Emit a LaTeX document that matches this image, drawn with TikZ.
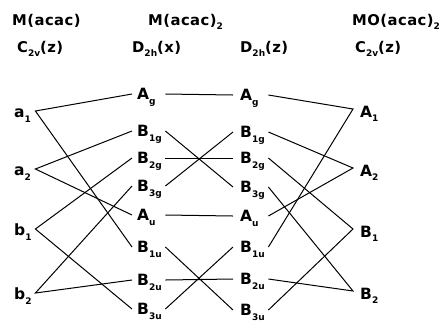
\documentclass[tikz,border=0pt]{standalone}
\usepackage{fontspec}
\newfontfamily\lf[LetterSpace=3]{DejaVu Sans Bold}
\newfontfamily\lfsub{DejaVu Sans Bold}
\newcommand\lsb[1]{\raisebox{-0.3em}{\fontsize{9}{9}\lfsub #1}}
\begin{document}
\begin{tikzpicture}[x=1pt,y=-1pt,
  lbl/.style={inner sep=0pt, anchor=west, align=left, font=\fontsize{15.5}{15.5}\lf},
  hd/.style={inner sep=0pt, anchor=base west, font=\fontsize{14.8}{14.8}\lf},
  c0/.style={lbl, text width=17pt, text height=13pt, text depth=0pt},
  c1/.style={lbl, text width=26pt, text height=11pt, text depth=0pt},
  c2/.style={lbl, text width=26pt, text height=11pt, text depth=0pt},
  c3/.style={lbl, text width=30pt, text height=16pt, text depth=0pt},
  ln/.style={line width=1pt}]
\useasboundingbox (0,0) rectangle (443,322);
% headers
\node[hd] (h1) at (12,25) {M(acac)};
\node[hd] (h2) at (148,25) {M(acac)\lsb{2}};
\node[hd] (h3) at (352,25) {MO(acac)\lsb{2}};
\node[hd] (g1) at (17,52) {C\lsb{2v}(z)};
\node[hd] (g2) at (132,52) {D\lsb{2h}(x)};
\node[hd] (g3) at (240,52) {D\lsb{2h}(z)};
\node[hd] (g4) at (355,52) {C\lsb{2v}(z)};
% column 0
\node[c0] (a1) at (14,111) {a\lsb{1}};
\node[c0] (a2) at (14,169) {a\lsb{2}};
\node[c0] (b1) at (14,229) {b\lsb{1}};
\node[c0] (b2) at (14,293) {b\lsb{2}};
% column 1
\node[c1] (xAg) at (137,94) {A\lsb{g}};
\node[c1] (xB1g) at (137,131) {B\lsb{1g}};
\node[c1] (xB2g) at (137,158) {B\lsb{2g}};
\node[c1] (xB3g) at (137,186) {B\lsb{3g}};
\node[c1] (xAu) at (137,215) {A\lsb{u}};
\node[c1] (xB1u) at (137,247) {B\lsb{1u}};
\node[c1] (xB2u) at (137,280) {B\lsb{2u}};
\node[c1] (xB3u) at (137,309) {B\lsb{3u}};
% column 2
\node[c2] (zAg) at (240,95) {A\lsb{g}};
\node[c2] (zB1g) at (240,132) {B\lsb{1g}};
\node[c2] (zB2g) at (240,158) {B\lsb{2g}};
\node[c2] (zB3g) at (240,187) {B\lsb{3g}};
\node[c2] (zAu) at (240,216) {A\lsb{u}};
\node[c2] (zB1u) at (240,247) {B\lsb{1u}};
\node[c2] (zB2u) at (240,279) {B\lsb{2u}};
\node[c2] (zB3u) at (240,310) {B\lsb{3u}};
% column 3
\node[c3] (A1) at (360,109) {A\lsb{1}};
\node[c3] (A2) at (360,168) {A\lsb{2}};
\node[c3] (B1) at (360,229) {B\lsb{1}};
\node[c3] (B2) at (360,291) {B\lsb{2}};
% connectors col0 -> col1
\tikzset{L0/.style={xshift=4pt}, L1/.style={xshift=-5pt}, R1/.style={xshift=2pt}, L2/.style={xshift=-7pt}, R2/.style={xshift=2pt}, L3/.style={xshift=-7pt}}
\draw[ln] ([L1]xAg.west) -- ([L0]a1.east) -- ([L1]xB1u.west);
\draw[ln] ([L1]xB1g.west) -- ([L0]a2.east) -- ([L1]xAu.west);
\draw[ln] ([L1]xB2g.west) -- ([L0]b1.east) -- ([L1]xB3u.west);
\draw[ln] ([L1]xB3g.west) -- ([L0]b2.east) -- ([L1]xB2u.west);
% col1 -> col2
\draw[ln] ([R1]xAg.east) -- ([L2]zAg.west);
\draw[ln] ([R1]xB1g.east) -- ([L2]zB3g.west);
\draw[ln] ([R1]xB2g.east) -- ([L2]zB2g.west);
\draw[ln] ([R1]xB3g.east) -- ([L2]zB1g.west);
\draw[ln] ([R1]xAu.east) -- ([L2]zAu.west);
\draw[ln] ([R1]xB1u.east) -- ([L2]zB3u.west);
\draw[ln] ([R1]xB2u.east) -- ([L2]zB2u.west);
\draw[ln] ([R1]xB3u.east) -- ([L2]zB1u.west);
% col2 -> col3
\draw[ln] ([R2]zAg.east) -- ([L3]A1.west) -- ([R2]zB1u.east);
\draw[ln] ([R2]zB1g.east) -- ([L3]A2.west) -- ([R2]zAu.east);
\draw[ln] ([R2]zB2g.east) -- ([L3]B1.west) -- ([R2]zB3u.east);
\draw[ln] ([R2]zB3g.east) -- ([L3]B2.west) -- ([R2]zB2u.east);
\end{tikzpicture}
\end{document}
